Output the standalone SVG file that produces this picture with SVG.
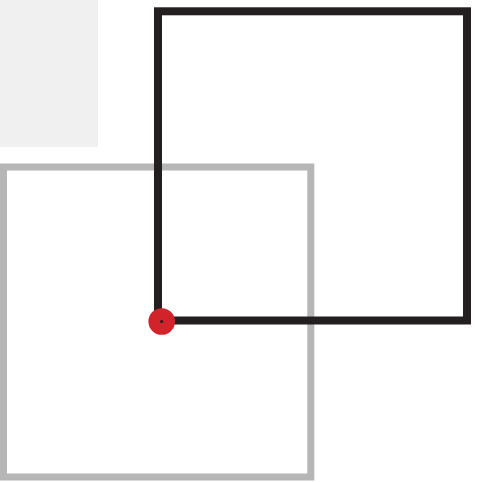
<svg xmlns="http://www.w3.org/2000/svg" width="483" height="482" viewBox="0 0 483 482">
<style>
.sq{fill:none;stroke-linejoin:miter}
</style>
<rect width="483" height="482" fill="#ffffff"/>
<g id="texture">
<rect x="0" y="0" width="98" height="147" fill="#f0f0f0"/>
</g>
<g id="gray-square">
<rect class="sq" x="3.5" y="167" width="307.3" height="310" stroke="#b7b6b6" stroke-width="7"/>
</g>
<g id="black-square">
<rect class="sq" x="158" y="11.3" width="309" height="309.2" stroke="#231f20" stroke-width="8"/>
</g>
<g id="red-dot">
<circle cx="161.7" cy="321.5" r="13.3" fill="#d2232a"/>
<circle cx="161.7" cy="321.5" r="1.6" fill="#231f20"/>
</g>
</svg>
